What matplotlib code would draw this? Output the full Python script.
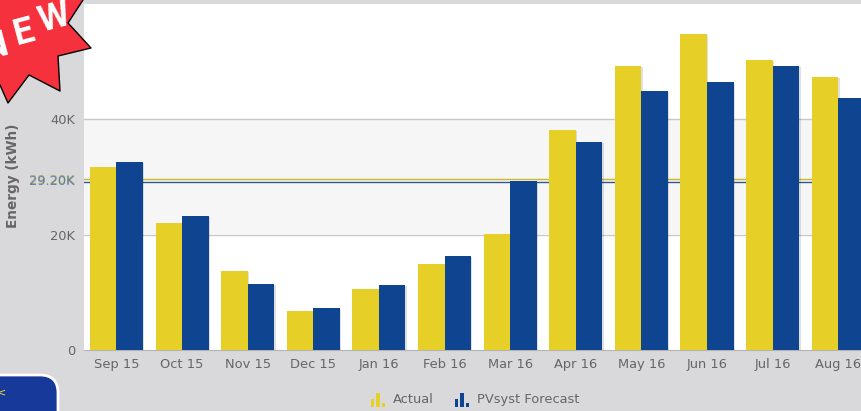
import matplotlib
matplotlib.use("Agg")
from matplotlib import pyplot as plt
from matplotlib import patheffects as pe
from matplotlib.patches import Polygon, FancyBboxPatch, Rectangle
import numpy as np

months = ["Sep 15", "Oct 15", "Nov 15", "Dec 15", "Jan 16", "Feb 16",
          "Mar 16", "Apr 16", "May 16", "Jun 16", "Jul 16", "Aug 16"]
actual = [31.7, 22.0, 13.65, 6.7, 10.5, 14.9, 20.1, 38.2, 49.3, 54.9, 50.3, 47.4]
forecast = [32.6, 23.2, 11.4, 7.2, 11.2, 16.3, 29.3, 36.1, 45.0, 46.5, 49.3, 43.7]
actual_avg = 29.6
forecast_avg = 29.2
yticks = [0, 20, 40]
ytick_labels = ["0", "20K", "40K"]

W, H = 862, 411
bg = "#d9d9db"
yellow = "#e6cf27"
blue = "#0f4491"
grey = "#666666"
fs = 9.4

fig = plt.figure(figsize=(W / 100, H / 100), dpi=100, facecolor=bg)
ax = fig.add_axes([84 / W, (H - 349.5) / H, (W - 84) / W, 345 / H])
ax.set_facecolor("white")

x = np.arange(len(months))
bw = 26.5 / 65.5
shadow = [pe.SimplePatchShadow(offset=(1, -1), alpha=0.12, shadow_rgbFace="black"), pe.Normal()]
ax.bar(x - bw / 2, actual, bw, color=yellow, zorder=3, path_effects=shadow)
ax.bar(x + bw / 2, forecast, bw, color=blue, zorder=3, path_effects=shadow)

# band and grid
ax.axhspan(20, 40, color="#f6f6f6", lw=0, zorder=0)
for v in yticks[1:]:
    ax.axhline(v, color="#c8c8c8", lw=1, zorder=1)
ax.axhline(actual_avg, color="#c9b72c", lw=1, zorder=2)
ax.axhline(forecast_avg, color="#2f5a8f", lw=1, zorder=2)

ax.set_xlim(-0.495, 11.363)
ax.set_ylim(0, 60)
ax.set_xticks(x)
ax.set_xticklabels(months, fontsize=fs, color=grey)
ax.set_yticks(yticks)
ax.set_yticklabels(ytick_labels, fontsize=fs, color=grey)
ax.tick_params(length=0)
ax.tick_params(axis="x", pad=6)
ax.tick_params(axis="y", pad=6.5)
for s in ["top", "right", "left"]:
    ax.spines[s].set_visible(False)
ax.spines["bottom"].set_color("#b4b4b4")

# both average labels sit on top of each other in the left margin
trans = ax.get_yaxis_transform()
ax.text(-9 / 778, 29.4, "29.20K", transform=trans, ha="right", va="center",
        fontsize=fs, color="#a8a35a", alpha=0.9, clip_on=False)
ax.text(-9 / 778, forecast_avg, "29.20K", transform=trans, ha="right", va="center",
        fontsize=fs, color="#5b7a9c", alpha=0.9, clip_on=False)

# overlay in pixel coordinates for the badge, axis title and legend
ov = fig.add_axes([0, 0, 1, 1], facecolor="none")
ov.set_xlim(0, W)
ov.set_ylim(H, 0)
ov.axis("off")

ov.text(13, 176, "Energy (kWh)", rotation=90, ha="center", va="center",
        fontsize=9.8, fontweight="bold", color=grey)

star_x = [83, 68, 91, 58, 60, 29, 8, 0]
star_y = [0, 23, 48, 56, 91, 75, 103, 85]
ov.add_patch(Polygon(list(zip(star_x, star_y)) + [(0, 0)], closed=True,
                     facecolor="#f4313c", edgecolor="none", zorder=5))
ov.plot(star_x, star_y, color="black", lw=1, zorder=6)
for ch, px, py in [("N", -5, 47), ("E", 24, 33), ("W", 54, 18)]:
    ov.text(px, py, ch, rotation=15, ha="center", va="center", color="white",
            fontsize=26, fontweight="bold", family="Roboto", zorder=7)

ov.add_patch(FancyBboxPatch((-20, 375), 78, 60, boxstyle="round,pad=0,rounding_size=18",
                            facecolor="#17399a", edgecolor="white", lw=2, zorder=5))
ov.text(1, 392, "<", color="#f2e62c", fontsize=8, ha="center", va="center", zorder=6)

for (x0, col, label, tx) in [(371, yellow, "Actual", 393), (455, blue, "PVsyst Forecast", 477)]:
    for dx, h in [(0, 8), (5.5, 14), (11, 4)]:
        ov.add_patch(Rectangle((x0 + dx, 407 - h), 3.5, h, facecolor=col, edgecolor="none"))
    ov.text(tx, 399, label, fontsize=fs, color=grey, va="center", ha="left")

fig.savefig("out.png", dpi=100, facecolor=bg)
